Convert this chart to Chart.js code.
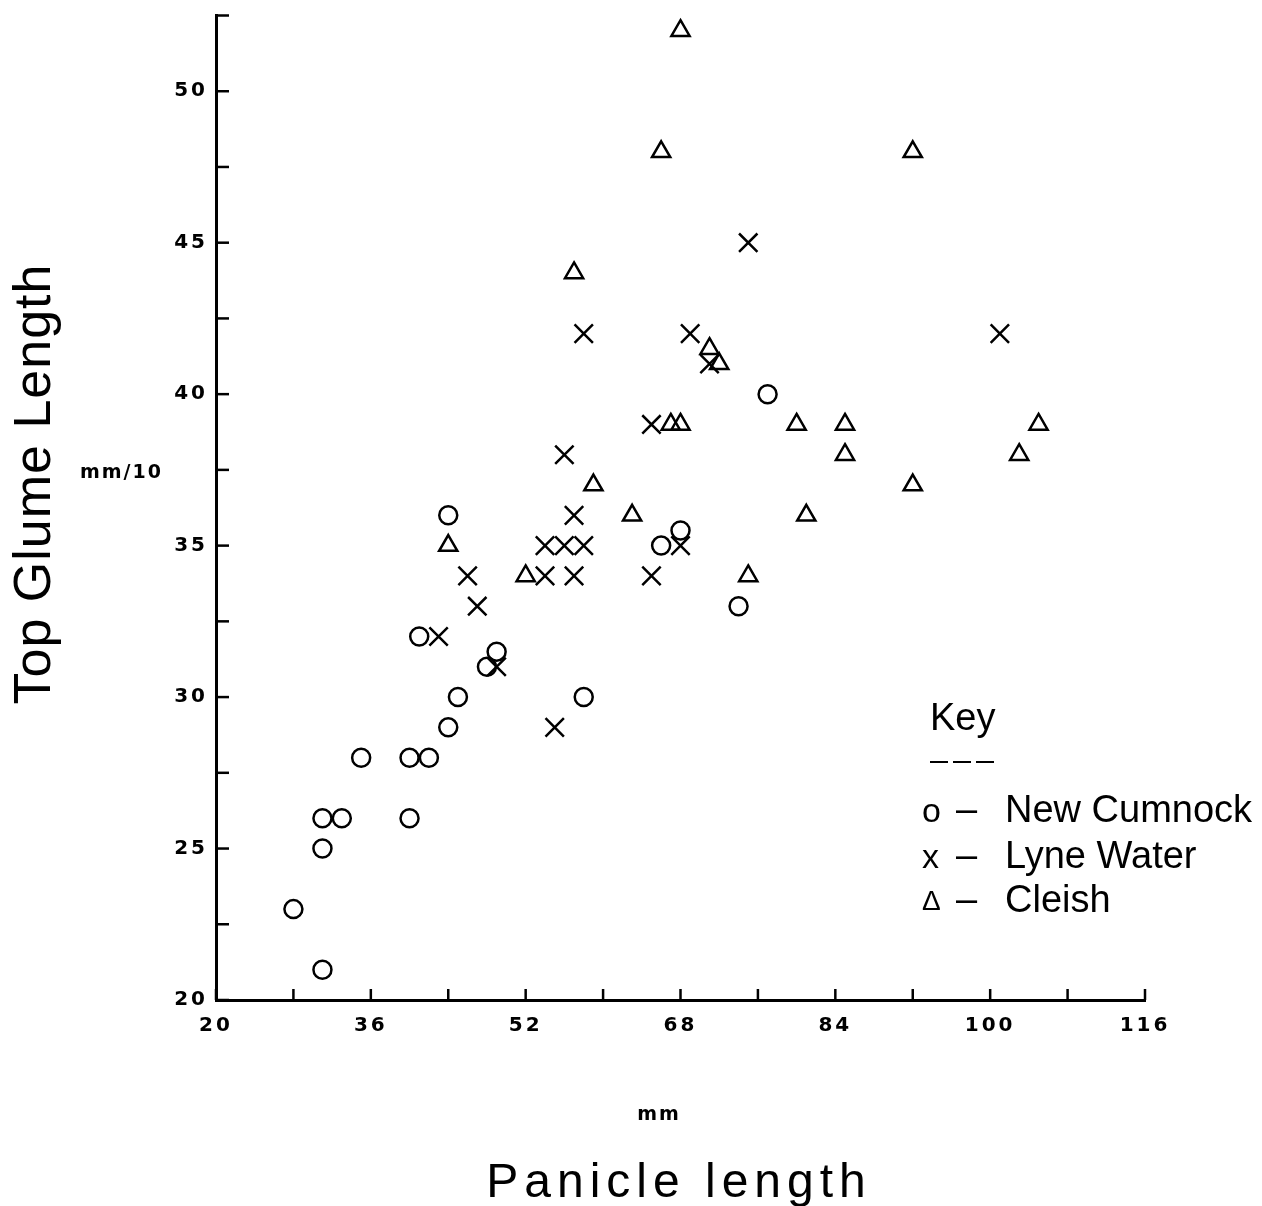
<!DOCTYPE html>
<html>
<head>
<meta charset="utf-8">
<script src="https://cdn.jsdelivr.net/npm/chart.js@4/dist/chart.umd.min.js"></script>
<style>
  html, body { margin: 0; padding: 0; background: #fff; }
  canvas { display: block; }
</style>
</head>
<body>
<canvas id="glumeChart" width="1262" height="1206"></canvas>
<script>
// panicle length (mm) against top glume length (mm/10), one pair of arrays per site
var newCumnockX = [28, 31, 31, 31, 33, 35, 40, 40, 42, 41, 44, 44, 45, 48, 49, 58, 66, 68, 74, 77];
var newCumnockY = [23, 21, 25, 26, 26, 28, 26, 28, 28, 32, 36, 29, 30, 31, 31.5, 30, 35, 35.5, 33, 40];

var lyneWaterX = [75, 58, 69, 101, 71, 65, 56, 57, 54, 56, 58, 68, 46, 54, 57, 65, 47, 43, 49, 55];
var lyneWaterY = [45, 42, 42, 42, 41, 39, 38, 36, 35, 35, 35, 35, 34, 34, 34, 34, 33, 32, 31, 29];

var cleishX = [68, 66, 92, 57, 71, 72, 67, 68, 80, 85, 105, 85, 103, 59, 92, 63, 81, 44, 52, 75];
var cleishY = [52, 48, 48, 44, 41.5, 41, 39, 39, 39, 39, 39, 38, 38, 37, 37, 36, 36, 35, 34, 34];

var siteNames = ['New Cumnock', 'Lyne Water', 'Cleish'];
var siteMarks = ['o', 'x', '\u0394'];

var xLabelValues = [20, 36, 52, 68, 84, 100, 116];
var yLabelValues = [20, 25, 30, 35, 40, 45, 50];

var toPoints = function(xs, ys) {
    var pts = [];
    for (var i = 0; i < xs.length; i++) {
        pts.push({x: xs[i], y: ys[i]});
    }
    return pts;
};

var markerSet = function(label, pts, style, radius) {
    return {
        label: label,
        data: pts,
        pointStyle: style,
        pointRadius: radius,
        pointHoverRadius: radius,
        pointBorderWidth: 2.5,
        borderColor: '#000',
        backgroundColor: 'rgba(0,0,0,0)',
        showLine: false
    };
};

// inward tick marks, axis titles and the hand-lettered key
var paperPlugin = {
    id: 'paper',
    beforeDraw: function(chart) {
        chart.ctx.letterSpacing = '3px';
    },
    afterDraw: function(chart) {
        var ctx = chart.ctx;
        var xs = chart.scales.x, ys = chart.scales.y, area = chart.chartArea;
        ctx.save();
        ctx.strokeStyle = '#000';
        ctx.fillStyle = '#000';
        ctx.lineWidth = 2.5;

        xs.ticks.forEach(function(t) {
            var px = xs.getPixelForValue(t.value);
            ctx.beginPath();
            ctx.moveTo(px, area.bottom);
            ctx.lineTo(px, area.bottom - 11);
            ctx.stroke();
        });
        ys.ticks.forEach(function(t) {
            var py = ys.getPixelForValue(t.value);
            ctx.beginPath();
            ctx.moveTo(area.left, py);
            ctx.lineTo(area.left + 13, py);
            ctx.stroke();
        });

        // y title
        ctx.letterSpacing = '0px';
        ctx.save();
        ctx.translate(50, 484);
        ctx.rotate(-Math.PI / 2);
        ctx.font = '52px "Liberation Sans", Arial, sans-serif';
        ctx.letterSpacing = '1px';
        ctx.textAlign = 'center';
        ctx.textBaseline = 'alphabetic';
        ctx.fillText('Top Glume Length', 0, 0);
        ctx.restore();

        ctx.font = 'bold 19px "DejaVu Sans", sans-serif';
        ctx.textAlign = 'left';
        ctx.letterSpacing = '2px';
        ctx.fillText('mm/10', 80, 478);
        ctx.textAlign = 'center';
        ctx.fillText('mm', 659, 1120);

        // x title
        ctx.font = '48px "Liberation Sans", Arial, sans-serif';
        ctx.letterSpacing = '6px';
        ctx.fillText('Panicle length', 679, 1197);

        // key
        ctx.letterSpacing = '0px';
        ctx.textAlign = 'left';
        ctx.font = '38px "Liberation Sans", Arial, sans-serif';
        ctx.fillText('Key', 930, 730);
        ctx.lineWidth = 2;
        ctx.setLineDash([18, 5]);
        ctx.beginPath();
        ctx.moveTo(930, 762);
        ctx.lineTo(995, 762);
        ctx.stroke();
        ctx.setLineDash([]);

        var rows = [822, 868, 912];
        for (var i = 0; i < siteNames.length; i++) {
            ctx.font = (i == 2 ? '28px' : '34px') + ' "Liberation Sans", Arial, sans-serif';
            ctx.fillText(siteMarks[i], 922, rows[i] - (i == 2 ? 2 : 0));
            ctx.font = '38px "Liberation Sans", Arial, sans-serif';
            ctx.fillText('\u2013', 956, rows[i]);
            ctx.fillText(siteNames[i], 1005, rows[i]);
        }
        ctx.restore();
    }
};

var tickFont = {family: '"DejaVu Sans", sans-serif', size: 20, weight: 'bold'};

new Chart(document.getElementById('glumeChart'), {
    type: 'scatter',
    data: {
        datasets: [
            markerSet(siteNames[0], toPoints(newCumnockX, newCumnockY), 'circle', 9),
            markerSet(siteNames[1], toPoints(lyneWaterX, lyneWaterY), 'crossRot', 13),
            markerSet(siteNames[2], toPoints(cleishX, cleishY), 'triangle', 10.5)
        ]
    },
    options: {
        responsive: false,
        animation: false,
        devicePixelRatio: 1,
        layout: {padding: {left: 0, top: 14, right: 117, bottom: 0}},
        plugins: {
            legend: {display: false},
            tooltip: {enabled: false}
        },
        scales: {
            x: {
                type: 'linear',
                min: 20,
                max: 116,
                afterFit: function(scale) {
                    scale.height = 206;
                    scale.paddingLeft = 0;
                    scale.paddingRight = 0;
                },
                border: {display: true, color: '#000', width: 3},
                grid: {display: true, drawOnChartArea: false, drawTicks: false},
                ticks: {
                    stepSize: 8,
                    autoSkip: false,
                    maxRotation: 0,
                    padding: 14,
                    color: '#000',
                    font: tickFont,
                    callback: function(v) { return xLabelValues.indexOf(v) >= 0 ? String(v) : ''; }
                }
            },
            y: {
                type: 'linear',
                min: 20,
                max: 52.5,
                afterFit: function(scale) {
                    scale.width = 216;
                    scale.paddingTop = 0;
                    scale.paddingBottom = 0;
                },
                border: {display: true, color: '#000', width: 3},
                grid: {display: true, drawOnChartArea: false, drawTicks: false},
                ticks: {
                    stepSize: 2.5,
                    autoSkip: false,
                    padding: 8,
                    color: '#000',
                    font: tickFont,
                    callback: function(v) { return yLabelValues.indexOf(v) >= 0 ? String(v) : ''; }
                }
            }
        }
    },
    plugins: [paperPlugin]
});
</script>
</body>
</html>
